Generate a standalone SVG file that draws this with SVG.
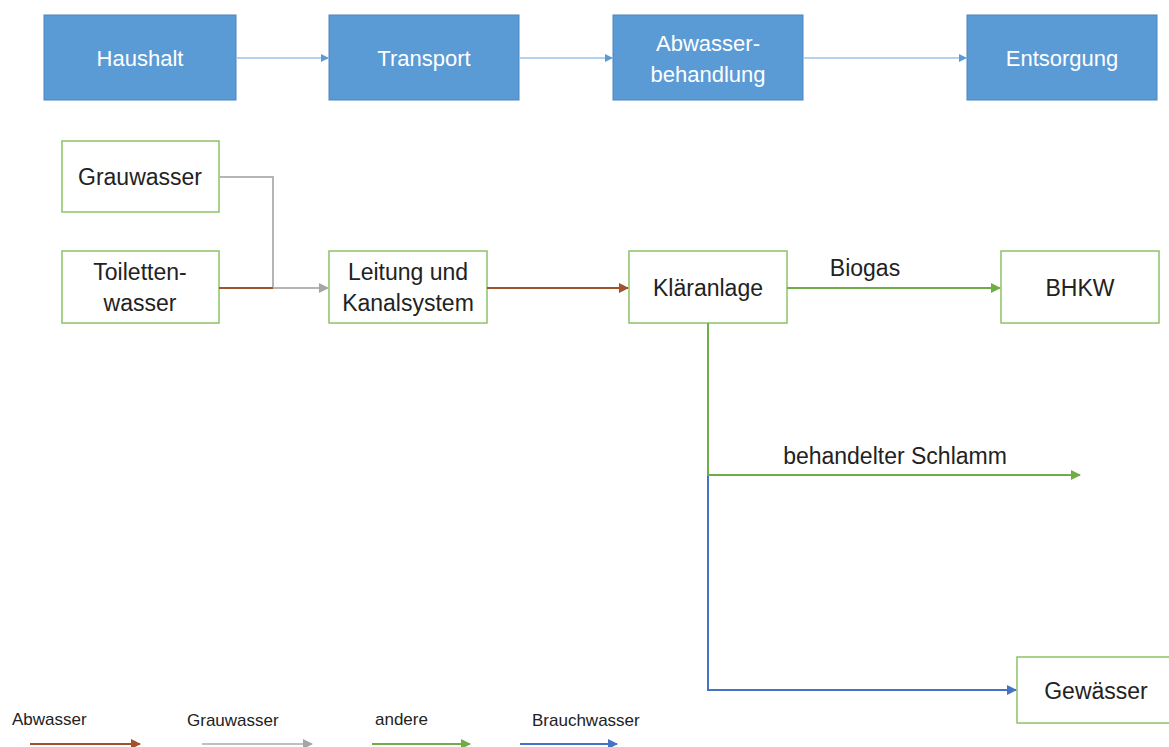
<svg xmlns="http://www.w3.org/2000/svg" width="1169" height="747" viewBox="0 0 1169 747">
<style>
.top rect{fill:#5B9BD5;stroke:#4A86BF;stroke-width:1}
.top text{fill:#fff;font-family:"Liberation Sans",Arial,sans-serif;font-size:22px;text-anchor:middle}
.nd rect{fill:#fff;stroke:#8CC26A;stroke-width:1.5}
.nd text, .lbl{fill:#222;font-family:"Liberation Sans",Arial,sans-serif;font-size:23px;text-anchor:middle}
.leg{fill:#222;font-family:"Liberation Sans",Arial,sans-serif;font-size:17px}
.c{fill:none;stroke-width:2}
.t{fill:none;stroke:#9DC3E6;stroke-width:1.5}
</style>
<defs>
<marker id="aLb" markerWidth="8" markerHeight="8" refX="7" refY="4" orient="auto" markerUnits="userSpaceOnUse"><path d="M0,0 L8,4 L0,8 z" fill="#5B9BD5"/></marker>
<marker id="aBr" markerWidth="10" markerHeight="10" refX="9" refY="5" orient="auto" markerUnits="userSpaceOnUse"><path d="M0,0 L10,5 L0,10 z" fill="#A0522D"/></marker>
<marker id="aGy" markerWidth="10" markerHeight="10" refX="9" refY="5" orient="auto" markerUnits="userSpaceOnUse"><path d="M0,0 L10,5 L0,10 z" fill="#A5A5A5"/></marker>
<marker id="aGn" markerWidth="10" markerHeight="10" refX="9" refY="5" orient="auto" markerUnits="userSpaceOnUse"><path d="M0,0 L10,5 L0,10 z" fill="#70AD47"/></marker>
<marker id="aBl" markerWidth="10" markerHeight="10" refX="9" refY="5" orient="auto" markerUnits="userSpaceOnUse"><path d="M0,0 L10,5 L0,10 z" fill="#4472C4"/></marker>
</defs>
<rect width="1169" height="747" fill="#fff"/>

<g id="haushalt" class="top"><rect x="44" y="15" width="192" height="85"/><text x="140" y="66">Haushalt</text></g>
<g id="transport" class="top"><rect x="329" y="15" width="190" height="85"/><text x="424" y="66">Transport</text></g>
<g id="abwasserbehandlung" class="top"><rect x="613" y="15" width="190" height="85"/><text x="708" y="51">Abwasser-</text><text x="708" y="82">behandlung</text></g>
<g id="entsorgung" class="top"><rect x="967" y="15" width="190" height="85"/><text x="1062" y="66">Entsorgung</text></g>

<g id="grauwasser" class="nd"><rect x="62" y="141" width="157" height="71"/><text x="140" y="185">Grauwasser</text></g>
<g id="toilettenwasser" class="nd"><rect x="62" y="251" width="157" height="72"/><text x="140" y="280">Toiletten-</text><text x="140" y="311">wasser</text></g>
<g id="leitung" class="nd"><rect x="329" y="251" width="158" height="72"/><text x="408" y="280">Leitung und</text><text x="408" y="311">Kanalsystem</text></g>
<g id="klaeranlage" class="nd"><rect x="629" y="251" width="158" height="72"/><text x="708" y="296">Kläranlage</text></g>
<g id="bhkw" class="nd"><rect x="1001" y="251" width="158" height="72"/><text x="1080" y="296">BHKW</text></g>
<g id="gewaesser" class="nd"><rect x="1017" y="657" width="160" height="66"/><text x="1096" y="699">Gewässer</text></g>

<g id="connectors">
<line class="t" x1="236" y1="58" x2="328" y2="58" marker-end="url(#aLb)"/>
<line class="t" x1="519" y1="58" x2="612" y2="58" marker-end="url(#aLb)"/>
<line class="t" x1="803" y1="58" x2="966" y2="58" marker-end="url(#aLb)"/>

<polyline class="c" points="219,177 273,177 273,288" stroke="#B5B5B5"/>
<line class="c" x1="219" y1="288" x2="273" y2="288" stroke="#A0522D"/>
<line class="c" x1="273" y1="288" x2="328" y2="288" stroke="#B5B5B5" marker-end="url(#aGy)"/>
<line class="c" x1="487" y1="288" x2="628" y2="288" stroke="#A0522D" marker-end="url(#aBr)"/>
<line class="c" x1="787" y1="288" x2="1000" y2="288" stroke="#70AD47" marker-end="url(#aGn)"/>
<polyline class="c" points="708,323 708,475 1080,475" stroke="#70AD47" marker-end="url(#aGn)"/>
<polyline class="c" points="708,476 708,690 1016,690" stroke="#4472C4" marker-end="url(#aBl)"/>
<text class="lbl" x="865" y="276">Biogas</text>
<text class="lbl" x="895" y="464">behandelter Schlamm</text>
</g>

<g id="legend">
<text class="leg" x="12" y="725">Abwasser</text>
<text class="leg" x="187" y="726">Grauwasser</text>
<text class="leg" x="375" y="725">andere</text>
<text class="leg" x="532" y="726">Brauchwasser</text>
<line class="c" x1="30" y1="744" x2="140" y2="744" stroke="#A0522D" marker-end="url(#aBr)"/>
<line class="c" x1="202" y1="744" x2="312" y2="744" stroke="#BFBFBF" marker-end="url(#aGy)"/>
<line class="c" x1="372" y1="744" x2="470" y2="744" stroke="#70AD47" marker-end="url(#aGn)"/>
<line class="c" x1="520" y1="744" x2="617" y2="744" stroke="#4472C4" marker-end="url(#aBl)"/>
</g>
</svg>
